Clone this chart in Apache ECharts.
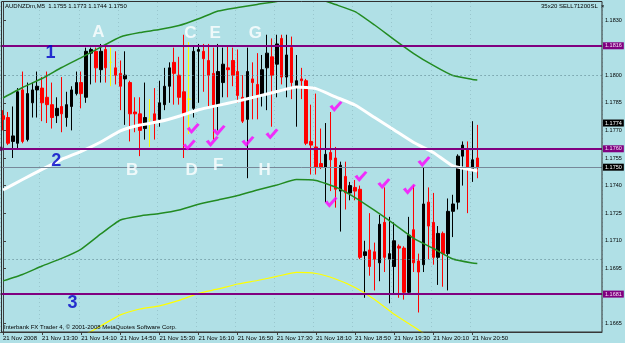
<!DOCTYPE html>
<html lang="en">
<head>
<meta charset="UTF-8">
<title>AUDNZDm,M5</title>
<script src="https://cdn.jsdelivr.net/npm/echarts@6/dist/echarts.min.js"></script>
<style>
    html, body { margin: 0; padding: 0; background: #b0e0e6; }
    #chart { width: 625px; height: 343px; }
</style>
</head>
<body>
<div id="chart"></div>
<script>
// AUDNZDm M5, 21 Nov 2008, first bar 12:50
var opens = [1.1778,1.1777,1.1764,1.1763,1.1792,1.1765,1.1785,1.1792,1.1793,1.1788,
    1.1784,1.1778,1.1783,1.1777,1.1783,1.1790,1.1796,1.1788,1.1812,1.1813,
    1.1803,1.1814,1.1807,1.1804,1.1801,1.1798,1.1796,1.1780,1.1779,1.1771,
    1.1776,1.1779,1.1776,1.1784,1.1794,1.1807,1.1800,1.1791,1.1787,1.1782,
    1.1813,1.1813,1.1808,1.1801,1.1784,1.1796,1.1804,1.1808,1.1802,1.1788,
    1.1776,1.1798,1.1795,1.1789,1.1804,1.1810,1.1806,1.1820,1.1799,1.1815,
    1.1794,1.1798,1.1797,1.1764,1.1761,1.1752,1.1750,1.1758,1.1755,1.1737,
    1.1745,1.1736,1.1739,1.1738,1.1702,1.1705,1.1704,1.1698,1.1720,1.1700,
    1.1696,1.1707,1.1706,1.1682,1.1716,1.1699,1.1697,1.1731,1.1720,1.1701,
    1.1714,1.1703,1.1726,1.1731,1.1756,1.1760,1.1748,1.1755];
var closes = [1.1776,1.1763,1.1767,1.1791,1.1764,1.1790,1.1792,1.1794,1.1785,1.1784,
    1.1777,1.1782,1.1779,1.1784,1.1792,1.1796,1.1790,1.1813,1.1814,1.1804,
    1.1813,1.1804,1.1807,1.1800,1.1794,1.1800,1.1779,1.1779,1.1770,1.1777,
    1.1776,1.1775,1.1785,1.1794,1.1804,1.1801,1.1788,1.1779,1.1787,1.1813,
    1.1814,1.1809,1.1800,1.1784,1.1802,1.1806,1.1803,1.1800,1.1789,1.1775,
    1.1802,1.1796,1.1789,1.1803,1.1812,1.1800,1.1817,1.1799,1.1811,1.1796,
    1.1797,1.1797,1.1763,1.1762,1.1750,1.1750,1.1757,1.1754,1.1738,1.1751,
    1.1736,1.1740,1.1737,1.1701,1.1704,1.1696,1.1700,1.1719,1.1701,1.1703,
    1.1710,1.1706,1.1682,1.1713,1.1698,1.1693,1.1730,1.1718,1.1701,1.1714,
    1.1703,1.1726,1.1730,1.1756,1.1762,1.1750,1.1754,1.1750];
var lows = [1.1770,1.1762,1.1755,1.1760,1.1763,1.1764,1.1777,1.1777,1.1775,1.1774,
    1.1771,1.1774,1.1769,1.1772,1.1770,1.1789,1.1782,1.1785,1.1795,1.1796,
    1.1796,1.1796,1.1794,1.1795,1.1781,1.1773,1.1764,1.1769,1.1756,1.1765,
    1.1761,1.1765,1.1772,1.1781,1.1785,1.1784,1.1784,1.1755,1.1768,1.1777,
    1.1785,1.1791,1.1782,1.1765,1.1770,1.1788,1.1788,1.1794,1.1785,1.1774,
    1.1744,1.1776,1.1776,1.1783,1.1781,1.1772,1.1788,1.1795,1.1788,1.1787,
    1.1772,1.1787,1.1762,1.1746,1.1746,1.1749,1.1731,1.1737,1.1728,1.1715,
    1.1727,1.1732,1.1732,1.1700,1.1679,1.1691,1.1683,1.1688,1.1693,1.1676,
    1.1681,1.1679,1.1678,1.1681,1.1693,1.1671,1.1693,1.1700,1.1697,1.1686,
    1.1685,1.1683,1.1712,1.1727,1.1740,1.1725,1.1742,1.1744];
var highs = [1.1781,1.1780,1.1783,1.1793,1.1802,1.1796,1.1796,1.1802,1.1799,1.1802,
    1.1796,1.1788,1.1799,1.1791,1.1794,1.1802,1.1802,1.1815,1.1815,1.1815,
    1.1817,1.1817,1.1815,1.1813,1.1808,1.1813,1.1797,1.1788,1.1788,1.1796,
    1.1787,1.1793,1.1797,1.1804,1.1807,1.1815,1.1810,1.1822,1.1818,1.1816,
    1.1817,1.1817,1.1817,1.1815,1.1817,1.1815,1.1816,1.1815,1.1814,1.1800,
    1.1815,1.1807,1.1812,1.1811,1.1822,1.1820,1.1822,1.1822,1.1822,1.1821,
    1.1811,1.1804,1.1798,1.1784,1.1790,1.1771,1.1774,1.1780,1.1761,1.1753,
    1.1753,1.1742,1.1743,1.1740,1.1710,1.1725,1.1709,1.1724,1.1739,1.1723,
    1.1720,1.1708,1.1707,1.1723,1.1740,1.1703,1.1750,1.1739,1.1736,1.1718,
    1.1715,1.1733,1.1735,1.1757,1.1764,1.1764,1.1775,1.1773];

// indicator lines, read every 4 bars
var maBars = [0,4,8,12,16,20,24,28,32,36,40,44,48,52,56,60,64,68,72,76,80,84,88,92,96,97];
var middleBand = [1.17376,1.17433,1.17488,1.17543,1.17586,1.17637,1.17697,1.17729,1.17748,1.17777,
    1.17812,1.17836,1.17859,1.17885,1.17911,1.17936,1.17927,1.17882,1.17838,1.17770,
    1.17702,1.17634,1.17580,1.17507,1.17485,1.17479];
var upperBand = [1.17876,1.17933,1.17982,1.18042,1.18096,1.18153,1.18208,1.18232,1.18248,1.18270,
    1.18307,1.18349,1.18368,1.18385,1.18401,1.18425,1.18420,1.18384,1.18346,1.18273,
    1.18194,1.18118,1.18053,1.17998,1.17977,1.17974];
var lowerBand = [1.16882,1.16917,1.16963,1.17004,1.17055,1.17137,1.17213,1.17235,1.17248,1.17267,
    1.17298,1.17322,1.17346,1.17376,1.17403,1.17433,1.17428,1.17392,1.17335,1.17265,
    1.17191,1.17113,1.17058,1.17001,1.16979,1.16977];
var yellowBars = [12,16,20,24,28,32,36,40,44,48,52,56,60,64,68,72,76,80,84,88,92,96,97];
var yellowLine = [1.16506,1.16577,1.16637,1.16697,1.16729,1.16746,1.16776,1.16814,1.16838,1.16865,
    1.16884,1.16906,1.16928,1.16922,1.16892,1.16846,1.16781,1.16700,1.16632,1.16561,
    1.16485,1.16409,1.16392];

var levels = [1.1816, 1.1760, 1.1681];
var markPrice = 1.1774;
var yTicks = [1.1665, 1.1695, 1.1710, 1.1725, 1.1740, 1.1755, 1.1770, 1.1785, 1.1800, 1.1830];
var xTickLabels = ['21 Nov 2008','21 Nov 13:30','21 Nov 14:10','21 Nov 14:50','21 Nov 15:30',
    '21 Nov 16:10','21 Nov 16:50','21 Nov 17:30','21 Nov 18:10','21 Nov 18:50',
    '21 Nov 19:30','21 Nov 20:10','21 Nov 20:50'];

// ticks (magenta) and the hand-written letters
var checkX = [38.9, 38.1, 44.2, 42.8, 50.1, 55.0, 68.1, 67.1, 73.2, 77.9, 83.1, 86.1];
var checkY = [1.1771, 1.1762, 1.1770, 1.1764, 1.1764, 1.1768, 1.1783, 1.1731, 1.1745, 1.1741, 1.1738, 1.1753];
var letters = ['A','C','E','G','B','D','F','H'];
var letterX = [19.5, 38.3, 43.4, 51.6, 26.4, 38.6, 44.0, 53.5];
var letterY = [1.18235, 1.1823, 1.1823, 1.1823, 1.17485, 1.17485, 1.17509, 1.17485];
var numbers = ['1','2','3'];
var numberX = [9.7, 10.9, 14.2];
var numberY = [1.18121, 1.17534, 1.16759];

var SLOTS = 123;
var times = [];
for (var i = 0; i < SLOTS; i++) {
    var m = 12 * 60 + 50 + i * 5;
    times.push(Math.floor(m / 60) + ':' + ('0' + (m % 60)).slice(-2));
}
var candles = opens.map(function (o, i) { return [o, closes[i], lows[i], highs[i]]; });
var last = candles.length - 1;
var bid = closes[last];

function pairs(xs, ys) { return xs.map(function (x, i) { return [x, ys[i]]; }); }
function showTick(i) { return i % 8 === 0 && i <= 96; }

var gridDots = { type: [1, 3], color: 'rgba(100,140,150,0.3)', width: 1 };

var purpleLabel = {
    show: true, position: 'end', distance: 1, fontSize: 5.5, color: '#f4e0f4',
    backgroundColor: '#800080', padding: [1, 2, 0, 2],
    formatter: function (p) { return p.value.toFixed(4); }
};
var blackLabel = {
    show: true, position: 'end', distance: 1, fontSize: 5.5, color: '#fff',
    backgroundColor: '#000', padding: [1, 2, 0, 2],
    formatter: function (p) { return p.value.toFixed(4); }
};

var chart = echarts.init(document.getElementById('chart'));
chart.setOption({
    animation: false,
    backgroundColor: '#b0e0e6',
    textStyle: { fontFamily: 'Liberation Sans' },
    grid: { left: 0.25, top: 2, width: 601.75, height: 330 },
    xAxis: [{
        type: 'category',
        data: times,
        boundaryGap: true,
        axisLine: { lineStyle: { color: '#404040', width: 1 } },
        axisTick: { show: true, interval: showTick, alignWithLabel: true, length: 3, lineStyle: { color: '#404040' } },
        axisLabel: {
            interval: showTick, align: 'left', fontSize: 6, color: '#000', margin: 3,
            formatter: function (v, i) { return i % 8 === 0 ? xTickLabels[i / 8] : ''; }
        },
        splitLine: { show: true, interval: showTick, lineStyle: gridDots }
    }, {
        type: 'value', min: -0.5, max: SLOTS - 0.5, show: false
    }],
    yAxis: {
        type: 'value',
        position: 'right',
        min: 1.16604,
        max: 1.18398,
        axisLine: { show: true, lineStyle: { color: '#404040' } },
        axisTick: { show: true, length: 3, customValues: yTicks, lineStyle: { color: '#404040' } },
        axisLabel: {
            customValues: yTicks, fontSize: 5.5, color: '#000', margin: 3,
            formatter: function (v) { return v.toFixed(4); }
        },
        splitLine: { show: false }
    },
    series: [{
        type: 'candlestick',
        data: candles,
        barWidth: 3,
        z: 2,
        itemStyle: {
            color: '#000', color0: '#ff0000',
            borderColor: '#000', borderColor0: '#ff0000',
            borderColorDoji: '#ffff00', borderWidth: 1
        },
        markLine: {
            silent: true, symbol: 'none', label: { show: false },
            lineStyle: gridDots,
            data: yTicks.map(function (v) { return { yAxis: v }; })
        }
    }, {
        type: 'line', xAxisIndex: 1, data: pairs(maBars, upperBand), smooth: 0.15,
        showSymbol: false, z: 3, lineStyle: { color: '#228b22', width: 1.5 }
    }, {
        type: 'line', xAxisIndex: 1, data: pairs(maBars, lowerBand), smooth: 0.15,
        showSymbol: false, z: 3, lineStyle: { color: '#228b22', width: 1.5 }
    }, {
        type: 'line', xAxisIndex: 1, data: pairs(yellowBars, yellowLine), smooth: 0.15,
        showSymbol: false, z: 3, lineStyle: { color: '#ffff00', width: 1.2 }
    }, {
        type: 'line', xAxisIndex: 1, data: pairs(maBars, middleBand), smooth: 0.15,
        showSymbol: false, z: 4, lineStyle: { color: '#ffffff', width: 3 }
    }, {
        type: 'line', xAxisIndex: 1, data: [], z: 5,
        markLine: {
            silent: true, symbol: 'none', precision: 4,
            data: [
                { yAxis: levels[0], lineStyle: { color: '#800080', width: 2, type: 'solid' }, label: purpleLabel },
                { yAxis: levels[1], symbol: ['emptyRect', 'emptyRect'], symbolSize: 4,
                  lineStyle: { color: '#800080', width: 2, type: 'solid' }, label: purpleLabel },
                { yAxis: levels[2], lineStyle: { color: '#800080', width: 2, type: 'solid' }, label: purpleLabel },
                { yAxis: bid, lineStyle: { color: '#778899', width: 1, type: 'solid' }, label: blackLabel },
                { yAxis: markPrice, lineStyle: { color: 'rgba(0,0,0,0)', width: 1, type: 'solid' }, label: blackLabel }
            ]
        }
    }, {
        type: 'scatter', xAxisIndex: 1, z: 6,
        data: pairs(checkX, checkY),
        symbol: 'path://M0,5.6 L2.8,3.8 L4.6,6.6 L10.6,0 L13,1.6 L4.8,11 Z',
        symbolSize: [13, 11],
        itemStyle: { color: '#ff00ff' }
    }, {
        type: 'scatter', xAxisIndex: 1, z: 7,
        data: pairs(letterX, letterY),
        symbolSize: 1, itemStyle: { color: 'transparent' },
        label: {
            show: true, position: 'inside', color: '#fff', fontSize: 17, fontWeight: 'bold',
            formatter: function (p) { return letters[p.dataIndex]; }
        }
    }, {
        type: 'scatter', xAxisIndex: 1, z: 7,
        data: pairs(numberX, numberY),
        symbolSize: 1, itemStyle: { color: 'transparent' },
        label: {
            show: true, position: 'inside', color: '#0000c8', fontSize: 18, fontWeight: 'bold',
            formatter: function (p) { return numbers[p.dataIndex]; }
        }
    }],
    graphic: [{
        type: 'rect', z: 100, silent: true,
        shape: { x: 1.5, y: 1.5, width: 600.5, height: 330.5 },
        style: { fill: null, stroke: '#303030', lineWidth: 1 }
    }, {
        type: 'text', left: 5, top: 3, z: 100,
        style: {
            text: 'AUDNZDm,M5  ' + opens[last].toFixed(4) + ' ' + highs[last].toFixed(4) + ' ' +
                lows[last].toFixed(4) + ' ' + closes[last].toFixed(4),
            fontSize: 6, fill: '#000', fontFamily: 'Liberation Sans'
        }
    }, {
        type: 'text', left: 541, top: 3, z: 100,
        style: { text: '35x20 SELL71200SL  \u00d7', fontSize: 6, fill: '#000', fontFamily: 'Liberation Sans' }
    }, {
        type: 'text', left: 4, top: 324, z: 100,
        style: { text: 'Interbank FX Trader 4, \u00a9 2001-2008 MetaQuotes Software Corp.', fontSize: 6, fill: '#000', fontFamily: 'Liberation Sans' }
    }]
});
</script>
</body>
</html>
